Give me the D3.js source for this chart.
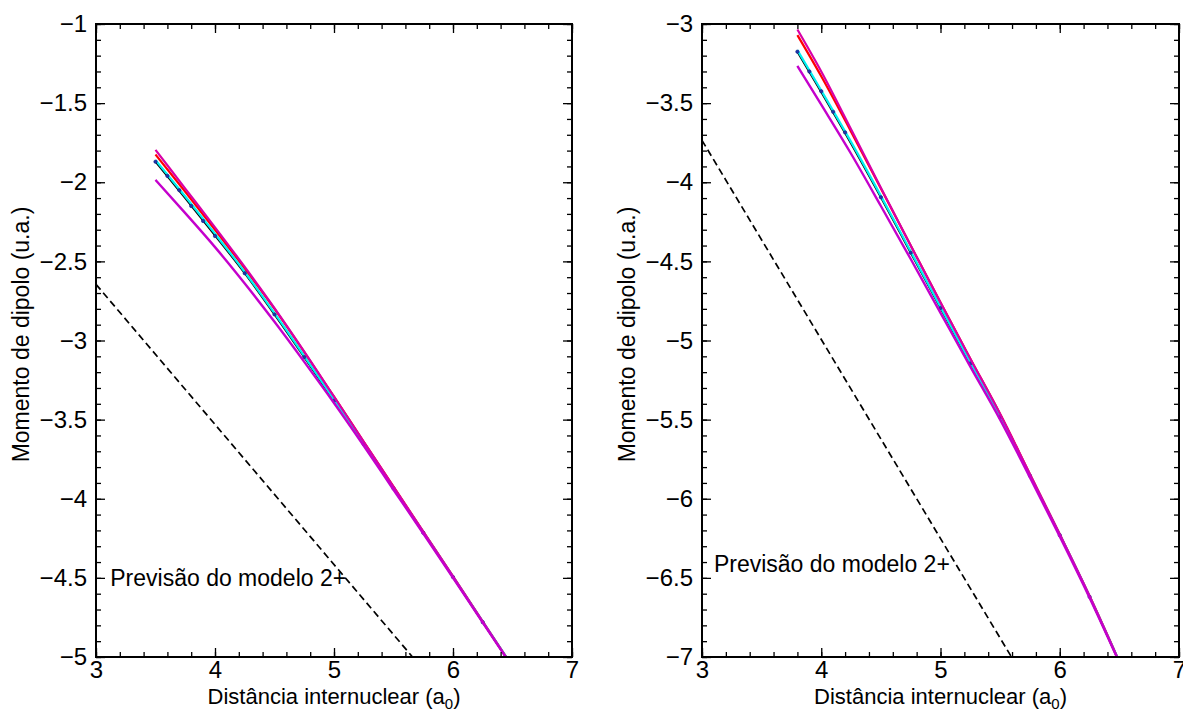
<!DOCTYPE html>
<html>
<head>
<meta charset="utf-8">
<script src="https://cdn.jsdelivr.net/npm/d3@7"></script>
<style>
  html, body { margin: 0; padding: 0; background: #fff; }
  svg { display: block; }
  text { font-family: "Liberation Sans", Arial, Helvetica, sans-serif; fill: #000; }
</style>
</head>
<body>
<svg id="chart" width="1183" height="713"></svg>
<script>
// ---- data ----
const xTicks = [3, 4, 5, 6, 7];
const leftYTicks = [-1, -1.5, -2, -2.5, -3, -3.5, -4, -4.5, -5];
const rightYTicks = [-3, -3.5, -4, -4.5, -5, -5.5, -6, -6.5, -7];

// left panel curves (distance in a0, dipole in a.u.)
const leftX            = [3.5, 3.75, 4.0, 4.25, 4.5, 4.75, 5.0, 5.25, 5.5, 5.75, 6.0, 6.25, 6.445];
const leftBlack        = [-1.87, -2.10, -2.335, -2.575, -2.835, -3.105, -3.38, -3.655, -3.935, -4.215, -4.495, -4.78, -5.0];
const leftCyan         = [-1.86, -2.09, -2.325, -2.567, -2.827, -3.098, -3.374, -3.65, -3.931, -4.211, -4.492, -4.777, -4.998];
const leftRed          = [-1.825, -2.06, -2.30, -2.545, -2.80, -3.073, -3.355, -3.64, -3.924, -4.207, -4.49, -4.776, -4.997];
const leftMagentaUpper = [-1.795, -2.04, -2.285, -2.535, -2.795, -3.07, -3.355, -3.64, -3.925, -4.208, -4.491, -4.777, -5.0];
const leftMagentaLower = [-1.985, -2.195, -2.41, -2.64, -2.882, -3.135, -3.395, -3.665, -3.943, -4.22, -4.499, -4.783, -5.002];
const leftDotsX        = [3.5, 3.6, 3.7, 3.8, 3.9, 4.0, 4.25, 4.5, 4.75, 5.0, 5.25, 5.5, 5.75, 6.0, 6.25];
const leftDotsY        = [-1.87, -1.96, -2.05, -2.15, -2.245, -2.34, -2.575, -2.835, -3.105, -3.38, -3.655, -3.935, -4.215, -4.495, -4.78];
const leftModelX       = [3, 5.66];
const leftModelY       = [-2.645, -5];

// right panel curves
const rightX            = [3.8, 4.0, 4.25, 4.5, 4.75, 5.0, 5.25, 5.5, 5.75, 6.0, 6.25, 6.48];
const rightBlack        = [-3.175, -3.43, -3.755, -4.095, -4.445, -4.795, -5.145, -5.485, -5.855, -6.23, -6.62, -7.0];
const rightCyan         = [-3.165, -3.42, -3.745, -4.086, -4.437, -4.788, -5.139, -5.48, -5.85, -6.226, -6.616, -6.997];
const rightRed          = [-3.07, -3.33, -3.68, -4.04, -4.40, -4.76, -5.115, -5.465, -5.845, -6.225, -6.615, -6.996];
const rightMagentaUpper = [-3.035, -3.30, -3.665, -4.035, -4.40, -4.76, -5.115, -5.465, -5.845, -6.225, -6.615, -7.0];
const rightMagentaLower = [-3.265, -3.51, -3.82, -4.15, -4.485, -4.825, -5.165, -5.50, -5.865, -6.238, -6.625, -7.002];
const rightDotsX        = [3.8, 3.9, 4.0, 4.1, 4.2, 4.5, 4.75, 5.0, 5.25, 5.5, 5.75, 6.0, 6.25];
const rightDotsY        = [-3.175, -3.30, -3.425, -3.555, -3.685, -4.095, -4.445, -4.795, -5.145, -5.485, -5.855, -6.23, -6.62];
const rightModelX       = [3, 5.595];
const rightModelY       = [-3.735, -7];

const modelLabel = "Previsão do modelo 2+";
const modelLabelAt = { left: [3.12, -4.5], right: [3.1, -6.41] };
const yTitle = "Momento de dipolo (u.a.)";

// ---- drawing ----
const svg = d3.select("#chart");
const fmt = v => (v < 0 ? "\u2212" : "") + Math.abs(v);
const FONT = "'Liberation Sans', Arial, Helvetica, sans-serif";

function panel(opts) {
  const { left, top, width, height, yDomain, yTicks, xs, series, dotsX, dotsY,
          modelX, modelY, labelAt, id, titleX } = opts;
  const x = d3.scaleLinear().domain([3, 7]).range([0, width]);
  const y = d3.scaleLinear().domain(yDomain).range([0, height]);
  const g = svg.append("g").attr("transform", `translate(${left},${top})`);

  g.append("clipPath").attr("id", id).append("rect")
    .attr("width", width).attr("height", height);
  const plot = g.append("g").attr("clip-path", `url(#${id})`);

  // model prediction (dashed)
  plot.append("path")
    .datum(modelX.map((v, i) => [v, modelY[i]]))
    .attr("fill", "none").attr("stroke", "#000").attr("stroke-width", 1.7)
    .attr("stroke-dasharray", "7,4")
    .attr("d", d3.line().x(d => x(d[0])).y(d => y(d[1])));

  const line = d3.line().curve(d3.curveMonotoneX).x(d => x(d[0])).y(d => y(d[1]));
  const drawSeries = (vals, color, w) => plot.append("path")
    .datum(xs.map((v, i) => [v, vals[i]]))
    .attr("fill", "none").attr("stroke", color).attr("stroke-width", w)
    .attr("stroke-linejoin", "round")
    .attr("d", line);

  drawSeries(series.black, "#000", 2);
  drawSeries(series.red, "#ff0000", 2.2);
  drawSeries(series.cyan, "#00f0f0", 2.2);
  plot.selectAll("circle.dot").data(dotsX.map((v, i) => [v, dotsY[i]])).enter()
    .append("circle").attr("class", "dot")
    .attr("cx", d => x(d[0])).attr("cy", d => y(d[1])).attr("r", 1.7)
    .attr("fill", "#2233aa").attr("stroke", "#101e88").attr("stroke-width", 0.6);
  drawSeries(series.magUp, "#d800a8", 2.2);
  drawSeries(series.magLow, "#c400cc", 2.4);

  // axes with inward ticks on all four sides
  const minorX = d3.range(3, 7.001, 0.2).map(v => +v.toFixed(2));
  const minorY = d3.range(yDomain[1], yDomain[0] + 0.001, 0.1).map(v => +v.toFixed(2));
  const axisStyle = sel => {
    sel.select(".domain").remove();
    sel.selectAll("line").attr("stroke", "#000").attr("stroke-width", 1.3);
    sel.selectAll("text").style("font-size", "24px").style("font-family", FONT);
  };
  g.append("g").attr("transform", `translate(0,${height})`)
    .call(d3.axisBottom(x).tickValues(minorX).tickSize(-5).tickFormat("")).call(axisStyle);
  g.append("g").attr("transform", `translate(0,${height})`)
    .call(d3.axisBottom(x).tickValues(xTicks).tickSize(-9).tickPadding(4).tickFormat(fmt)).call(axisStyle);
  g.append("g")
    .call(d3.axisTop(x).tickValues(minorX).tickSize(-5).tickFormat("")).call(axisStyle);
  g.append("g")
    .call(d3.axisTop(x).tickValues(xTicks).tickSize(-9).tickFormat("")).call(axisStyle);
  g.append("g")
    .call(d3.axisLeft(y).tickValues(minorY).tickSize(-5).tickFormat("")).call(axisStyle);
  g.append("g")
    .call(d3.axisLeft(y).tickValues(yTicks).tickSize(-9).tickPadding(9).tickFormat(fmt)).call(axisStyle);
  g.append("g").attr("transform", `translate(${width},0)`)
    .call(d3.axisRight(y).tickValues(minorY).tickSize(-5).tickFormat("")).call(axisStyle);
  g.append("g").attr("transform", `translate(${width},0)`)
    .call(d3.axisRight(y).tickValues(yTicks).tickSize(-9).tickFormat("")).call(axisStyle);

  // frame
  g.append("rect").attr("width", width).attr("height", height)
    .attr("fill", "none").attr("stroke", "#000").attr("stroke-width", 2);

  // annotation
  g.append("text").attr("x", x(labelAt[0])).attr("y", y(labelAt[1]) + 8)
    .style("font-size", "23px").text(modelLabel);

  // axis titles
  const xt = g.append("text").attr("x", width / 2).attr("y", height + 47)
    .attr("text-anchor", "middle").style("font-size", "22px");
  xt.append("tspan").text("Distância internuclear (a");
  xt.append("tspan").attr("dy", 5).style("font-size", "15px").text("0");
  xt.append("tspan").attr("dy", -5).text(")");

  g.append("text")
    .attr("transform", `translate(${titleX},${height / 2 - 6}) rotate(-90)`)
    .attr("text-anchor", "middle").style("font-size", "23px").text(yTitle);
}

panel({
  id: "clipL", left: 96, top: 24, width: 476, height: 633,
  yDomain: [-1, -5], yTicks: leftYTicks, xs: leftX,
  series: { black: leftBlack, cyan: leftCyan, red: leftRed, magUp: leftMagentaUpper, magLow: leftMagentaLower },
  dotsX: leftDotsX, dotsY: leftDotsY, modelX: leftModelX, modelY: leftModelY,
  labelAt: modelLabelAt.left, titleX: -67
});
panel({
  id: "clipR", left: 702, top: 24, width: 477, height: 633,
  yDomain: [-3, -7], yTicks: rightYTicks, xs: rightX,
  series: { black: rightBlack, cyan: rightCyan, red: rightRed, magUp: rightMagentaUpper, magLow: rightMagentaLower },
  dotsX: rightDotsX, dotsY: rightDotsY, modelX: rightModelX, modelY: rightModelY,
  labelAt: modelLabelAt.right, titleX: -67
});
</script>
</body>
</html>
